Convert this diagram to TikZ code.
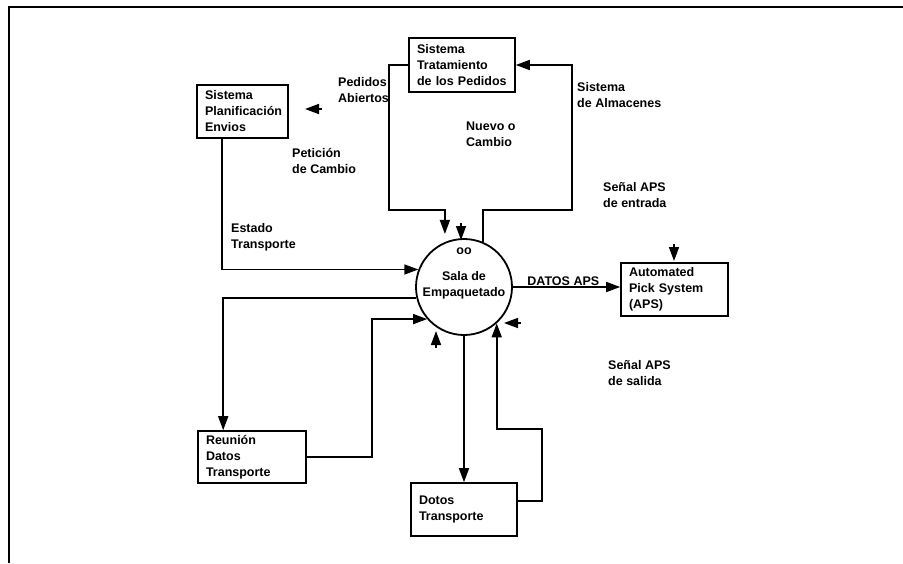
\documentclass[tikz,border=0pt]{standalone}
\usepackage{fontspec}
\setmainfont{Liberation Sans}
\usetikzlibrary{arrows.meta,calc}
\hyphenpenalty=10000\relax
\exhyphenpenalty=10000\relax
\begin{document}
\begin{tikzpicture}[x=1pt,y=-1pt,
  txt/.style={font=\fontsize{12.5}{16}\selectfont\bfseries},
  box/.style={draw, line width=1.6pt, txt, align=left, inner xsep=8pt, inner ysep=2pt},
  lbl/.style={txt, align=left, inner sep=0pt, anchor=north west},
  conn/.style={line width=1.6pt},
  arr/.style={conn, -{Triangle[length=14pt,width=10pt]}}
]
\useasboundingbox (0,0) rectangle (903,563);
\fill[white] (0,0) rectangle (903,563);
% frame
\draw[line width=2pt] (9,563) -- (9,7) -- (903,7);

% boxes
\node[box, text width=75pt, minimum height=53pt] (P) at (242.5,111.5) {Sistema\\Planificación\\Envios};
\node[box, text width=90pt, minimum height=54pt] (T) at (462,65) {Sistema\\Tratamiento\\de los Pedidos};
\node[box, text width=91pt, minimum height=53pt] (A) at (674.5,289.5) {Automated\\Pick System\\(APS)};
\node[box, text width=92pt, minimum height=52pt] (R) at (252,457) {Reunión\\Datos\\Transporte};
\node[box, text width=90pt, minimum height=53pt] (D) at (464,509.5) {Dotos\\Transporte};

% process circle
\node[draw, circle, line width=1.8pt, minimum size=96pt, inner sep=0pt] (C) at (464,287) {};
\node[txt, align=center, inner sep=0pt] (Ct) at ([yshift=14pt]C.center) {oo\\[10pt]Sala de\\Empaquetado};

% connectors
\draw[arr] ([xshift=26pt]P.south west) |- (C.159);
\draw[arr] (C.193) -| ([xshift=26pt]R.north west);
\draw[arr] (R.east) -- ++(65,0) |- (C.221);
\draw[arr] (C.south) -- (D.north);
\draw[arr] ([yshift=8.5pt]D.east) -| (542,429) -| (C.312);
\draw[arr] (T.west) -| (389,210) -| ([yshift=8pt]C.113);
\draw[arr] (C.67) |- (572,210) |- (T.east);
\draw[arr] (C.east) -- (C.east -| A.west) node[pos=0.47, above=1pt, txt, inner sep=0pt] (datos) {DATOS APS};

% dangling flow stubs
\coordinate (s1a) at (322,109); \coordinate (s1b) at (305,109);
\coordinate (s2a) at (461,223); \coordinate (s2b) at (461,240);
\coordinate (s3a) at (674,244); \coordinate (s3b) at (674,261);
\coordinate (s4a) at (521,323); \coordinate (s4b) at (504,323);
\coordinate (s5a) at (436,348); \coordinate (s5b) at (436,331);
\draw[arr] (s1a) -- (s1b);
\draw[arr] (s2a) -- (s2b);
\draw[arr] (s3a) -- (s3b);
\draw[arr] (s4a) -- (s4b);
\draw[arr] (s5a) -- (s5b);

% labels
\node[lbl] (pedidos) at (338,77) {Pedidos\\Abiertos};
\node[lbl] (almac) at (577,82) {Sistema\\de Almacenes};
\node[lbl] (nuevo) at (466,122) {Nuevo o\\Cambio};
\node[lbl] (peticion) at (292,148) {Petición\\de Cambio};
\node[lbl] (senalin) at (603,182) {Señal APS\\de entrada};
\node[lbl] (estado) at (231,223) {Estado\\Transporte};
\node[lbl] (senalout) at (608,360) {Señal APS\\de salida};
\end{tikzpicture}
\end{document}
